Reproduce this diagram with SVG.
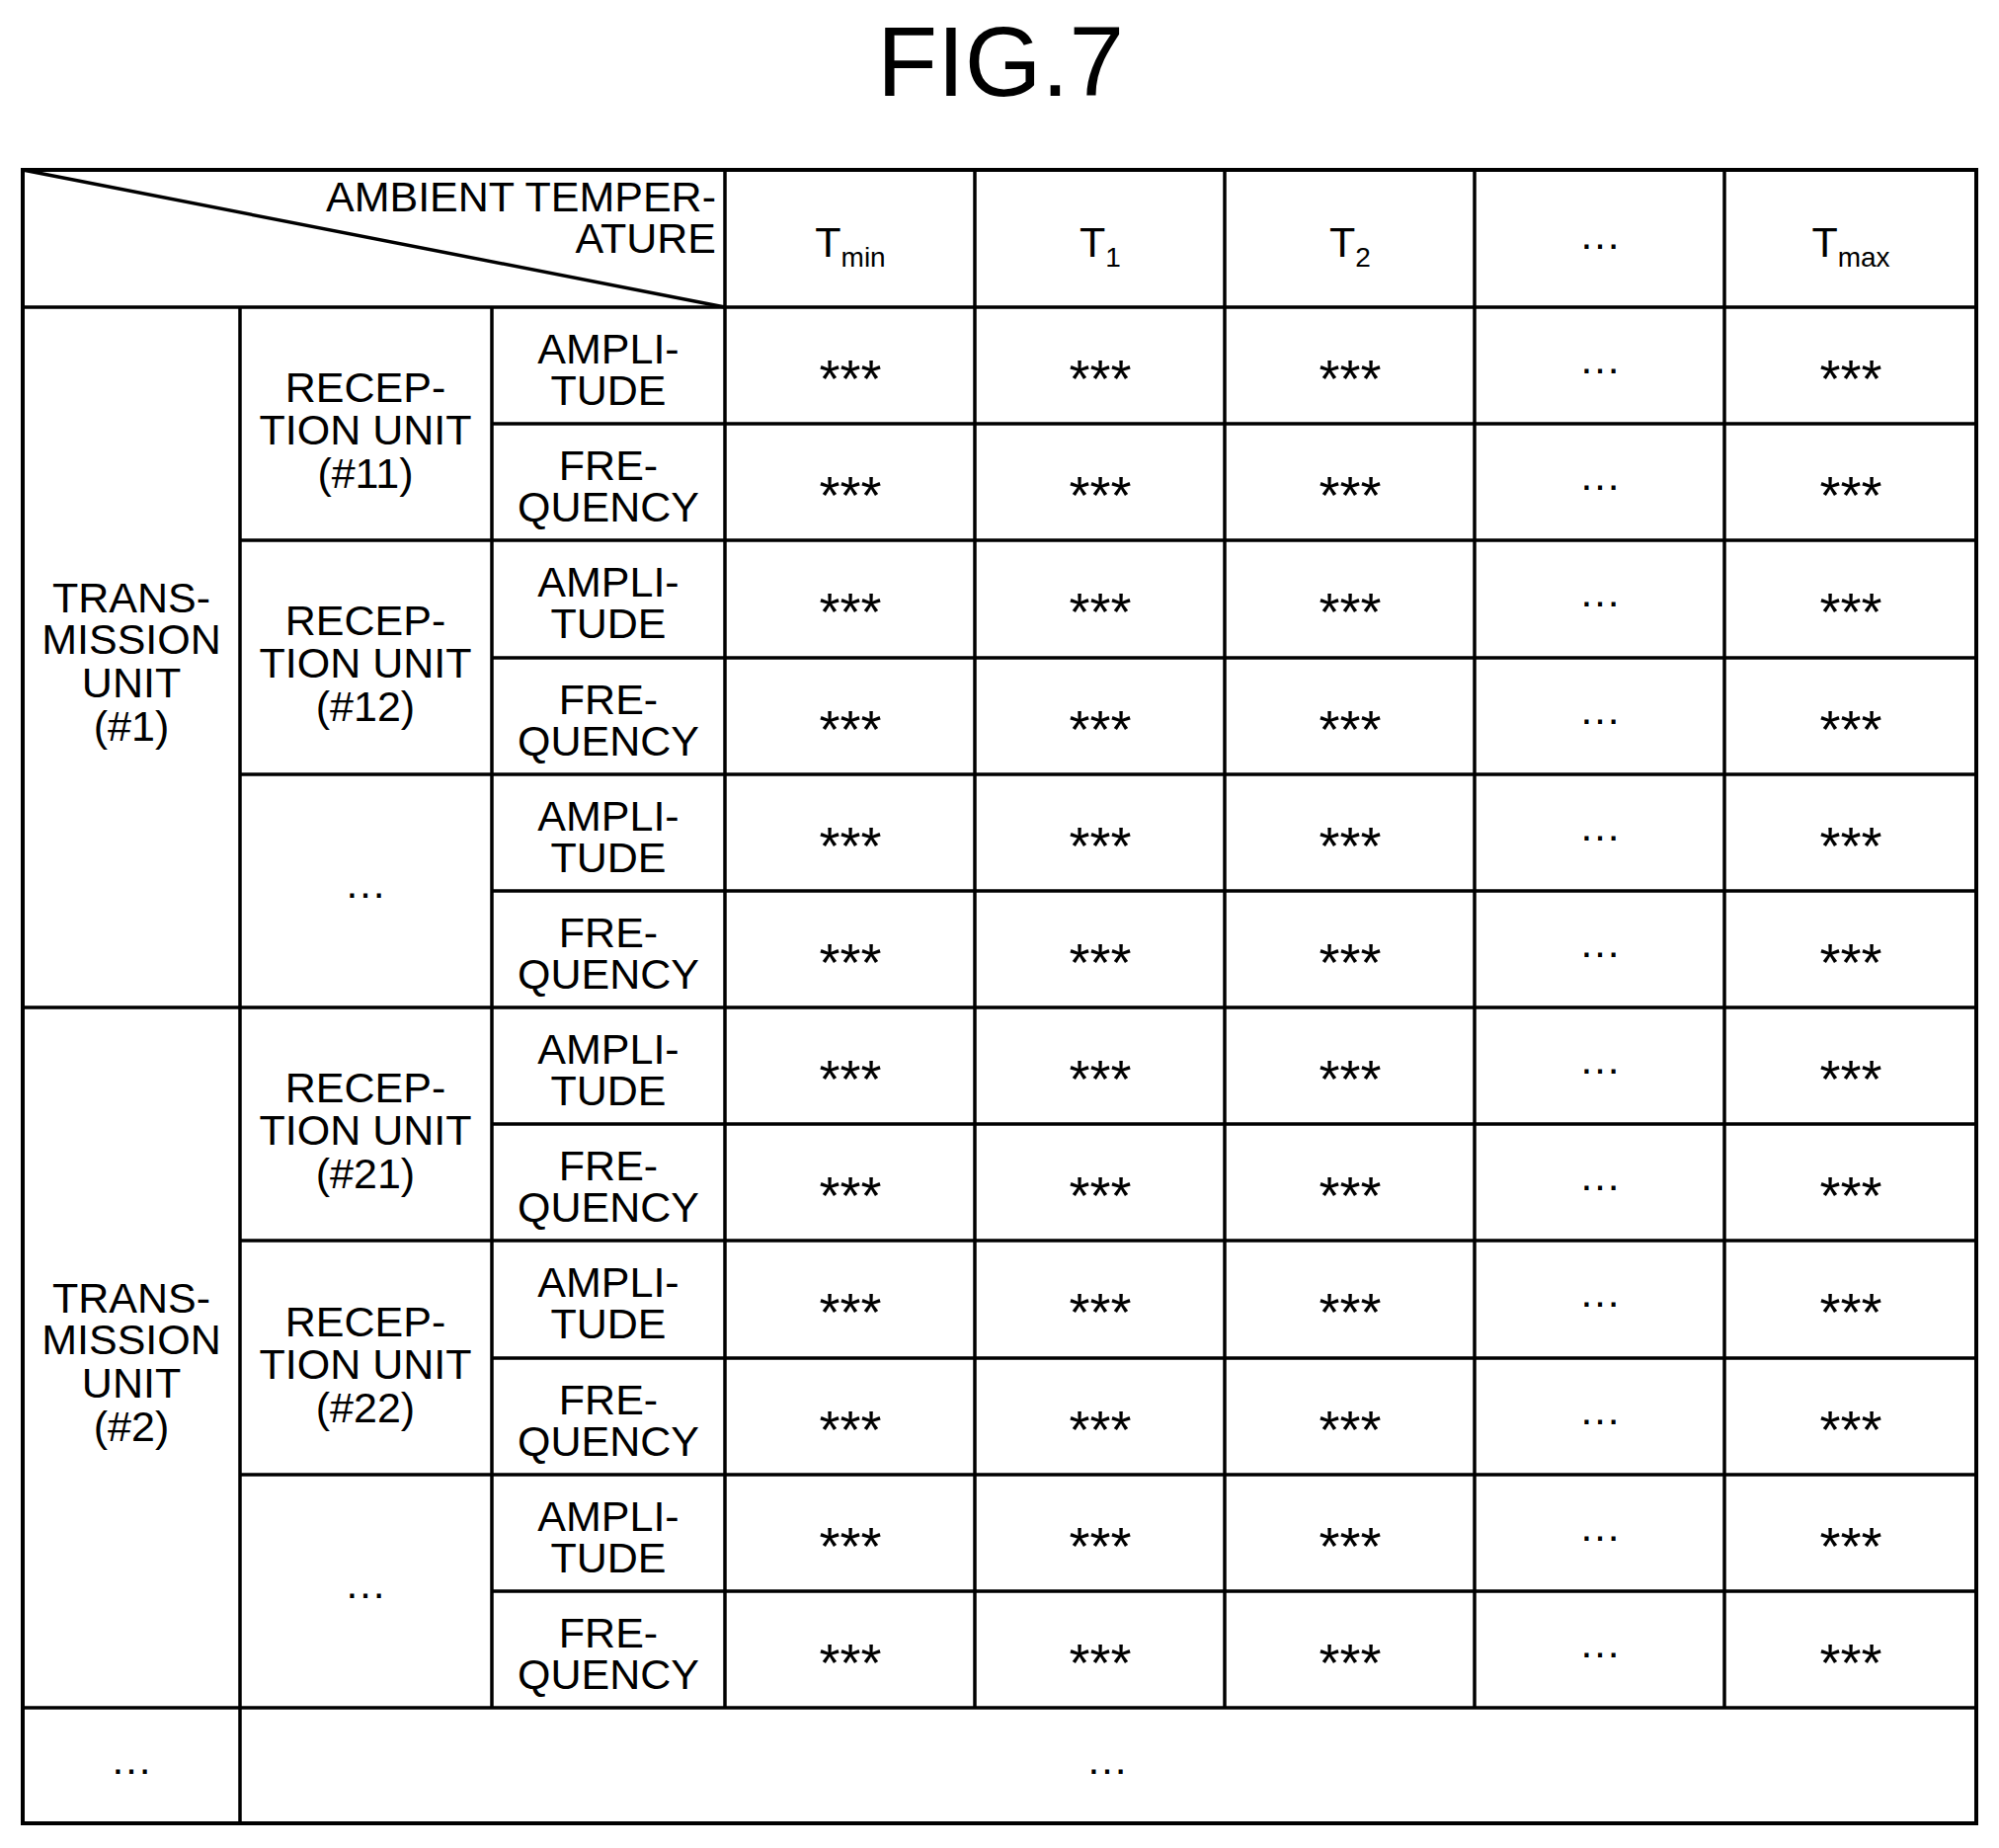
<svg xmlns="http://www.w3.org/2000/svg" width="2024" height="1871" viewBox="0 0 2024 1871">
<style>
text{font-family:"Liberation Sans",Arial,sans-serif;font-size:43px;fill:#000;text-anchor:middle}
.t{font-size:100px}
.s{font-size:28px}
.a text.k{font-size:54px}
line{stroke:#000;stroke-width:3.5}
.o{fill:none;stroke:#000;stroke-width:4}
</style>
<rect width="2024" height="1871" fill="#fff"/>
<text class="t" x="1013" y="97">FIG.7</text>
<g id="grid">
<rect class="o" x="23" y="172" width="1978" height="1674"/>
<line x1="23" y1="172" x2="734" y2="311"/>
<line x1="23" y1="311" x2="2001" y2="311"/>
<line x1="734" y1="172" x2="734" y2="1729"/>
<line x1="987" y1="172" x2="987" y2="1729"/>
<line x1="1240" y1="172" x2="1240" y2="1729"/>
<line x1="1493" y1="172" x2="1493" y2="1729"/>
<line x1="1746" y1="172" x2="1746" y2="1729"/>
<line x1="243" y1="311" x2="243" y2="1846"/>
<line x1="498" y1="311" x2="498" y2="1729"/>
<line x1="498" y1="429" x2="2001" y2="429"/>
<line x1="243" y1="547" x2="2001" y2="547"/>
<line x1="498" y1="666" x2="2001" y2="666"/>
<line x1="243" y1="784" x2="2001" y2="784"/>
<line x1="498" y1="902" x2="2001" y2="902"/>
<line x1="23" y1="1020" x2="2001" y2="1020"/>
<line x1="498" y1="1138" x2="2001" y2="1138"/>
<line x1="243" y1="1256" x2="2001" y2="1256"/>
<line x1="498" y1="1375" x2="2001" y2="1375"/>
<line x1="243" y1="1493" x2="2001" y2="1493"/>
<line x1="498" y1="1611" x2="2001" y2="1611"/>
<line x1="23" y1="1729" x2="2001" y2="1729"/>
</g>
<g id="header">
<text x="725" y="214" style="text-anchor:end">AMBIENT TEMPER-</text>
<text x="725" y="256" style="text-anchor:end">ATURE</text>
<text x="861" y="260">T<tspan class="s" dy="10">min</tspan></text>
<text x="1114" y="260">T<tspan class="s" dy="10">1</tspan></text>
<text x="1367" y="260">T<tspan class="s" dy="10">2</tspan></text>
<text x="1620" y="252">…</text>
<text x="1874" y="260">T<tspan class="s" dy="10">max</tspan></text>
</g>
<g id="tx1">
<text x="133" y="620">TRANS-</text><text x="133" y="662">MISSION</text><text x="133" y="706">UNIT</text><text x="133" y="750">(#1)</text>
</g>
<g id="tx2">
<text x="133" y="1329">TRANS-</text><text x="133" y="1371">MISSION</text><text x="133" y="1415">UNIT</text><text x="133" y="1459">(#2)</text>
</g>
<g id="rx">
<text x="370" y="407">RECEP-</text><text x="370" y="450">TION UNIT</text><text x="370" y="494">(#11)</text>
<text x="370" y="643">RECEP-</text><text x="370" y="686">TION UNIT</text><text x="370" y="730">(#12)</text>
<text x="370" y="909">…</text>
<text x="370" y="1116">RECEP-</text><text x="370" y="1159">TION UNIT</text><text x="370" y="1203">(#21)</text>
<text x="370" y="1353">RECEP-</text><text x="370" y="1396">TION UNIT</text><text x="370" y="1440">(#22)</text>
<text x="370" y="1618">…</text>
</g>
<g id="params">
<text x="616" y="368">AMPLI-</text><text x="616" y="410">TUDE</text>
<text x="616" y="486">FRE-</text><text x="616" y="528">QUENCY</text>
<text x="616" y="604">AMPLI-</text><text x="616" y="646">TUDE</text>
<text x="616" y="723">FRE-</text><text x="616" y="765">QUENCY</text>
<text x="616" y="841">AMPLI-</text><text x="616" y="883">TUDE</text>
<text x="616" y="959">FRE-</text><text x="616" y="1001">QUENCY</text>
<text x="616" y="1077">AMPLI-</text><text x="616" y="1119">TUDE</text>
<text x="616" y="1195">FRE-</text><text x="616" y="1237">QUENCY</text>
<text x="616" y="1313">AMPLI-</text><text x="616" y="1355">TUDE</text>
<text x="616" y="1432">FRE-</text><text x="616" y="1474">QUENCY</text>
<text x="616" y="1550">AMPLI-</text><text x="616" y="1592">TUDE</text>
<text x="616" y="1668">FRE-</text><text x="616" y="1710">QUENCY</text>
</g>
<g id="cells" class="a">
<g transform="translate(0,2)">
<text class="k" x="861" y="400">***</text><text class="k" x="1114" y="400">***</text><text class="k" x="1367" y="400">***</text><text class="k" x="1874" y="400">***</text>
<text class="k" x="861" y="518">***</text><text class="k" x="1114" y="518">***</text><text class="k" x="1367" y="518">***</text><text class="k" x="1874" y="518">***</text>
<text class="k" x="861" y="636">***</text><text class="k" x="1114" y="636">***</text><text class="k" x="1367" y="636">***</text><text class="k" x="1874" y="636">***</text>
<text class="k" x="861" y="755">***</text><text class="k" x="1114" y="755">***</text><text class="k" x="1367" y="755">***</text><text class="k" x="1874" y="755">***</text>
<text class="k" x="861" y="873">***</text><text class="k" x="1114" y="873">***</text><text class="k" x="1367" y="873">***</text><text class="k" x="1874" y="873">***</text>
<text class="k" x="861" y="991">***</text><text class="k" x="1114" y="991">***</text><text class="k" x="1367" y="991">***</text><text class="k" x="1874" y="991">***</text>
<text class="k" x="861" y="1109">***</text><text class="k" x="1114" y="1109">***</text><text class="k" x="1367" y="1109">***</text><text class="k" x="1874" y="1109">***</text>
<text class="k" x="861" y="1227">***</text><text class="k" x="1114" y="1227">***</text><text class="k" x="1367" y="1227">***</text><text class="k" x="1874" y="1227">***</text>
<text class="k" x="861" y="1345">***</text><text class="k" x="1114" y="1345">***</text><text class="k" x="1367" y="1345">***</text><text class="k" x="1874" y="1345">***</text>
<text class="k" x="861" y="1464">***</text><text class="k" x="1114" y="1464">***</text><text class="k" x="1367" y="1464">***</text><text class="k" x="1874" y="1464">***</text>
<text class="k" x="861" y="1582">***</text><text class="k" x="1114" y="1582">***</text><text class="k" x="1367" y="1582">***</text><text class="k" x="1874" y="1582">***</text>
<text class="k" x="861" y="1700">***</text><text class="k" x="1114" y="1700">***</text><text class="k" x="1367" y="1700">***</text><text class="k" x="1874" y="1700">***</text>
</g>
<text x="1620" y="378">…</text><text x="1620" y="496">…</text><text x="1620" y="614">…</text><text x="1620" y="733">…</text>
<text x="1620" y="851">…</text><text x="1620" y="969">…</text><text x="1620" y="1087">…</text><text x="1620" y="1205">…</text>
<text x="1620" y="1323">…</text><text x="1620" y="1442">…</text><text x="1620" y="1560">…</text><text x="1620" y="1678">…</text>
</g>
<g id="bottom">
<text x="133" y="1796">…</text>
<text x="1121" y="1796">…</text>
</g>
</svg>
